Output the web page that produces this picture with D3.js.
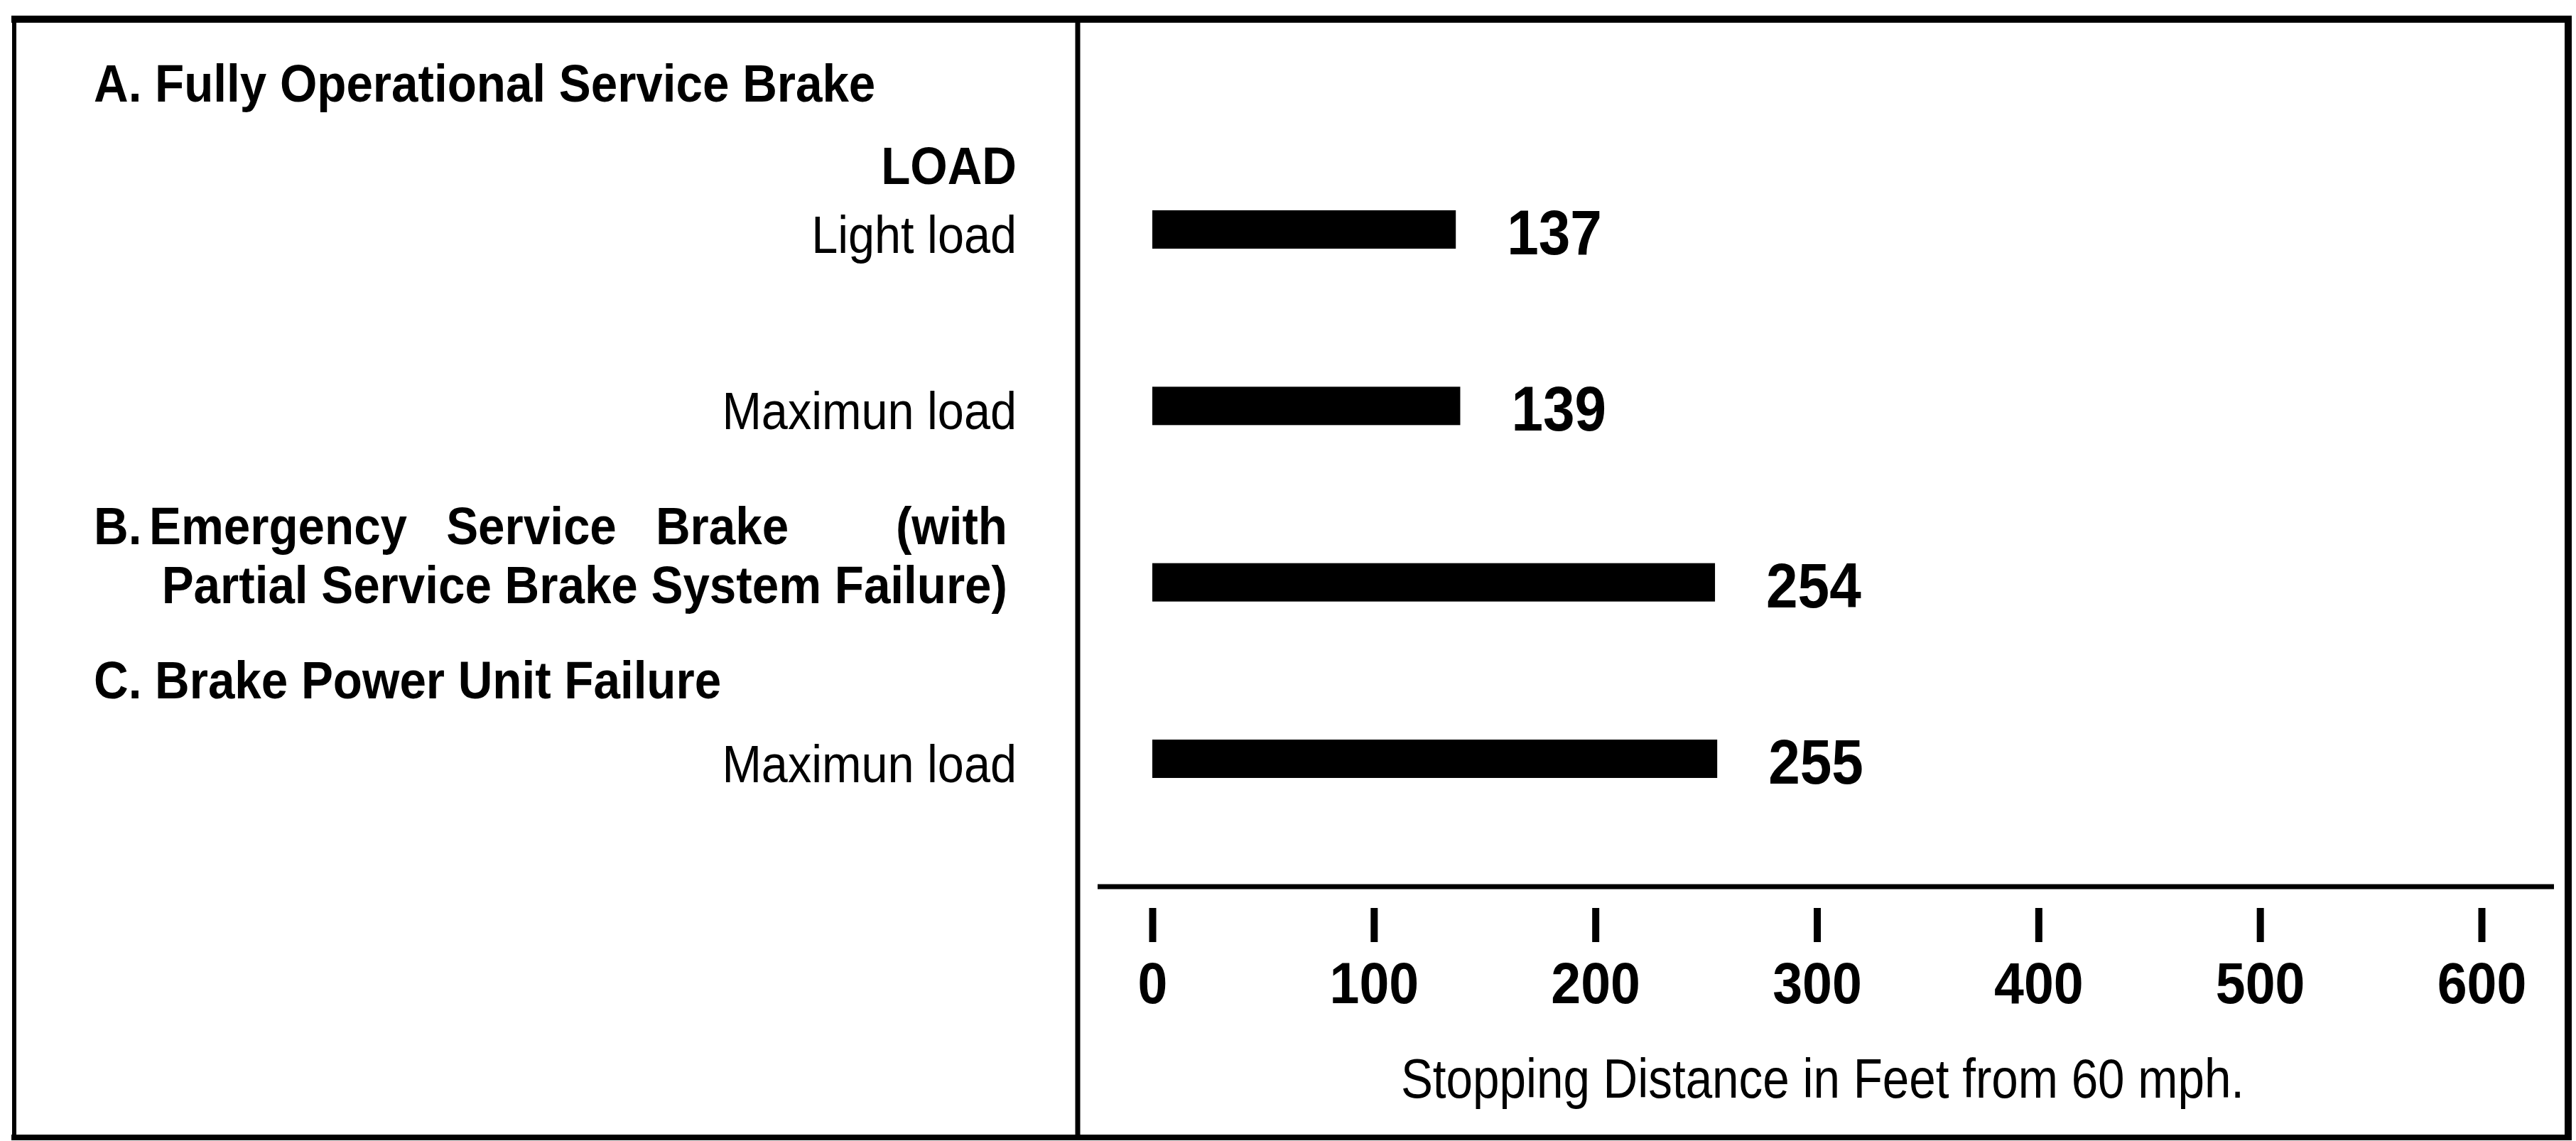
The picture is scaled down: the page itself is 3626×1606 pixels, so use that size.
<!DOCTYPE html>
<html>
<head>
<meta charset="utf-8">
<script src="https://cdn.jsdelivr.net/npm/d3@7"></script>
<style>
  body { margin: 0; background: #fff; }
  text { font-family: "Liberation Sans", Arial, Helvetica, sans-serif; fill: #000; }
</style>
</head>
<body>
<svg id="chart"></svg>
<script>

// data
const rows = ['A-light', 'A-max', 'B', 'C-max'];
const rowLabels = ['Light load', 'Maximun load', '', 'Maximun load'];
const distances = [137, 139, 254, 255];
const xTicks = [0, 100, 200, 300, 400, 500, 600];
const headA = 'A. Fully Operational Service Brake';
const headLoad = 'LOAD';
const headB = ['B.', 'Emergency Service Brake', '(with', 'Partial Service Brake System Failure)'];
const headC = 'C. Brake Power Unit Failure';
const xTitle = 'Stopping Distance in Feet from 60 mph.';

const W = 3626, H = 1606;
const BAR_H = 54;
const LABEL_RIGHT = 1431;

const svg = d3.select('#chart').attr('width', W).attr('height', H);
svg.append('rect').attr('width', W).attr('height', H).attr('fill', '#fff');

const x = d3.scaleLinear().domain([0, 600]).range([1622, 3493]);
const y = d3.scalePoint().domain(rows).range([323, 1068]);

/* squeeze the glyphs a bit, the printed type is narrower than Arial */
function condense(sel, f) {
    sel.each(function() {
        let w = this.getComputedTextLength();
        d3.select(this).attr('textLength', w * f).attr('lengthAdjust', 'spacingAndGlyphs');
    });
    return sel;
}

// frame
const frame = svg.append('g').attr('stroke', '#000').attr('fill', 'none');
frame.append('line').attr('x1', 16).attr('x2', 3620).attr('y1', 27).attr('y2', 27).attr('stroke-width', 10);
frame.append('line').attr('x1', 3615).attr('x2', 3615).attr('y1', 22).attr('y2', 1604).attr('stroke-width', 10);
frame.append('line').attr('x1', 16).attr('x2', 3620).attr('y1', 1601).attr('y2', 1601).attr('stroke-width', 8);
frame.append('line').attr('x1', 20).attr('x2', 20).attr('y1', 22).attr('y2', 1604).attr('stroke-width', 6);
frame.append('line').attr('x1', 1517).attr('x2', 1517).attr('y1', 22).attr('y2', 1604).attr('stroke-width', 7);

// left panel text
const left = svg.append('g');
condense(left.append('text').attr('x', 132).attr('y', 143)
    .attr('font-size', 74).attr('font-weight', 'bold').text(headA), 0.91);
condense(left.append('text').attr('x', LABEL_RIGHT).attr('y', 259).attr('text-anchor', 'end')
    .attr('font-size', 74).attr('font-weight', 'bold').text(headLoad), 0.91);

left.selectAll('text.row-label')
    .data(rows.filter((r, i) => rowLabels[i]))
    .join('text')
    .attr('class', 'row-label')
    .attr('x', LABEL_RIGHT)
    .attr('y', r => y(r) + 33)
    .attr('text-anchor', 'end')
    .attr('font-size', 74)
    .text(r => rowLabels[rows.indexOf(r)])
    .call(condense, 0.9);

// B heading is set justified in the print, wide gaps between the words
condense(left.append('text').attr('x', 132).attr('y', y('B') - 54)
    .attr('font-size', 74).attr('font-weight', 'bold').text(headB[0]), 0.91);
condense(left.append('text').attr('x', 210).attr('y', y('B') - 54)
    .attr('font-size', 74).attr('font-weight', 'bold').attr('word-spacing', 40).text(headB[1]), 0.91);
condense(left.append('text').attr('x', 1418).attr('y', y('B') - 54).attr('text-anchor', 'end')
    .attr('font-size', 74).attr('font-weight', 'bold').text(headB[2]), 0.91);
condense(left.append('text').attr('x', 1418).attr('y', y('B') + 29).attr('text-anchor', 'end')
    .attr('font-size', 74).attr('font-weight', 'bold').text(headB[3]), 0.91);
condense(left.append('text').attr('x', 132).attr('y', 983)
    .attr('font-size', 74).attr('font-weight', 'bold').text(headC), 0.91);

// bars + values
const plot = svg.append('g');
plot.selectAll('rect.bar')
    .data(rows)
    .join('rect')
    .attr('class', 'bar')
    .attr('x', x(0))
    .attr('y', r => y(r) - BAR_H / 2)
    .attr('width', (r, i) => x(distances[i]) - x(0))
    .attr('height', BAR_H)
    .attr('fill', '#000');

plot.selectAll('text.value')
    .data(rows)
    .join('text')
    .attr('class', 'value')
    .attr('x', (r, i) => x(distances[i]) + 72)
    .attr('y', r => y(r) + 35)
    .attr('font-size', 89)
    .attr('font-weight', 'bold')
    .text((r, i) => distances[i])
    .call(condense, 0.9);

// x axis: line with detached tick marks underneath
const AXIS_Y = 1248;
svg.append('line')
    .attr('x1', x(0) - 77).attr('x2', x(600) + 102)
    .attr('y1', AXIS_Y).attr('y2', AXIS_Y)
    .attr('stroke', '#000').attr('stroke-width', 7);

const axis = svg.append('g')
    .attr('transform', `translate(0,${AXIS_Y})`)
    .call(d3.axisBottom(x).tickValues(xTicks).tickFormat(d3.format('d')));
axis.select('.domain').remove();
axis.selectAll('.tick line')
    .attr('y1', 30).attr('y2', 78)
    .attr('stroke', '#000').attr('stroke-width', 10);
axis.selectAll('.tick text')
    .attr('y', 164).attr('dy', null)
    .attr('font-size', 81).attr('font-weight', 'bold')
    .attr('font-family', null)
    .call(condense, 0.93);
axis.attr('font-family', null).attr('font-size', null);

condense(svg.append('text').attr('x', x(300) + 8).attr('y', 1545).attr('text-anchor', 'middle')
    .attr('font-size', 77).text(xTitle), 0.875);

</script>
</body>
</html>
